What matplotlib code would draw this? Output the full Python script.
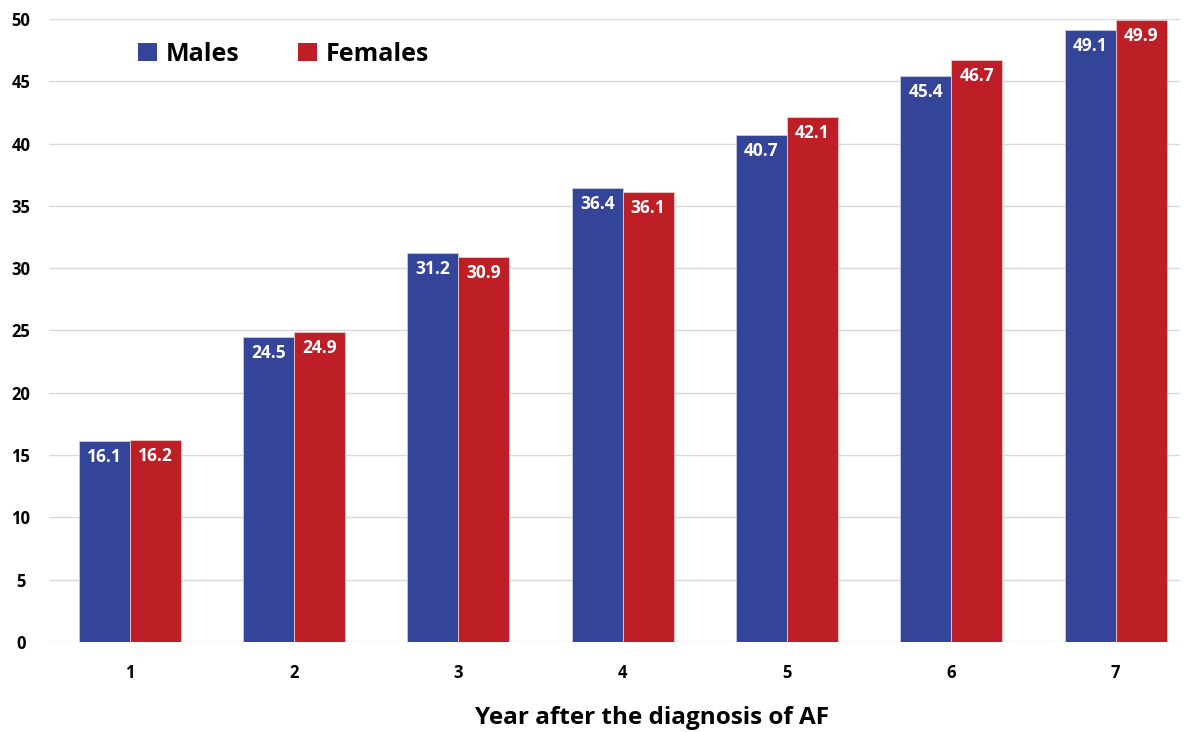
import matplotlib
matplotlib.use("Agg")
import matplotlib.pyplot as plt
import numpy as np
from matplotlib.patches import Patch

years = ["1", "2", "3", "4", "5", "6", "7"]
males = [16.1, 24.5, 31.2, 36.4, 40.7, 45.4, 49.1]
females = [16.2, 24.9, 30.9, 36.1, 42.1, 46.7, 49.9]
yticks = [0, 5, 10, 15, 20, 25, 30, 35, 40, 45, 50]

plt.rcParams['font.family'] = ['Open Sans', 'DejaVu Sans']

blue = "#344499"
red = "#BE1E25"

fig = plt.figure(figsize=(11.88, 7.32), dpi=100)
ax = fig.add_axes([0.041, 0.123, 0.952, 0.851])

x = np.arange(1, len(years) + 1)
w = 0.31
b1 = ax.bar(x - w/2, males, w, color=blue, edgecolor="#c9cbe3", linewidth=0.6, zorder=3)
b2 = ax.bar(x + w/2, females, w, color=red, edgecolor="#f0c8c8", linewidth=0.6, zorder=3)

for rects, vals in ((b1, males), (b2, females)):
    for r, v in zip(rects, vals):
        ax.text(r.get_x() + r.get_width()/2, v - 0.55, f"{v:.1f}", ha="center", va="top",
                color="white", fontsize=12.5, fontweight="bold", zorder=4)

ax.set_xlim(0.507, 7.39)
ax.set_ylim(0, 50)
ax.set_yticks(yticks)
ax.set_yticklabels([str(t) for t in yticks], fontsize=12, fontweight="bold")
ax.set_xticks(x)
ax.set_xticklabels(years, fontsize=12, fontweight="bold")
ax.tick_params(axis="both", length=0)
ax.tick_params(axis="x", pad=16)
ax.tick_params(axis="y", pad=20)
for lab in ax.get_yticklabels():
    lab.set_horizontalalignment("center")
ax.grid(axis="y", color="#d9d9d9", linewidth=1.0, zorder=0)
for s in ax.spines.values():
    s.set_visible(False)

ax.set_xlabel("Year after the diagnosis of AF", fontsize=17.5, fontweight="bold",
              va="center")
ax.xaxis.set_label_coords(0.533, (0.019 - 0.123) / 0.851)

handles = [Patch(facecolor=blue, label="Males"), Patch(facecolor=red, label="Females")]
leg = ax.legend(handles=handles, loc="upper left", bbox_to_anchor=(0.059, 1.0), ncol=2,
                frameon=False, prop={"size": 18, "weight": "bold"},
                handlelength=0.75, handleheight=0.75, handletextpad=0.35, columnspacing=2.36)

fig.savefig("out.png", dpi=100, facecolor="white")
